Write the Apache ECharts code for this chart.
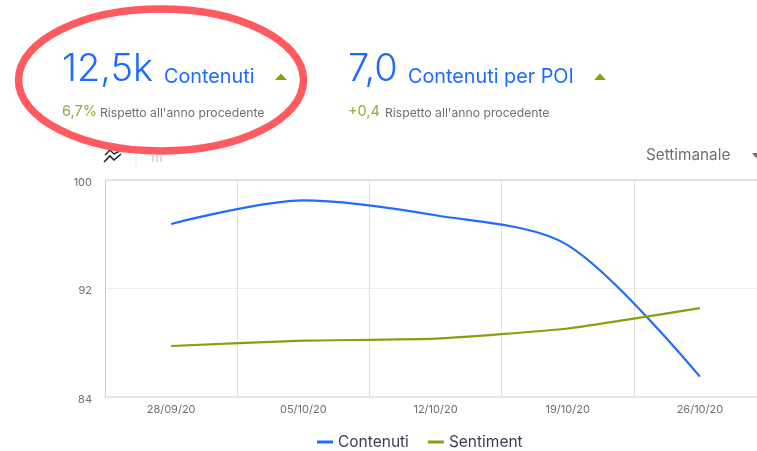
<!DOCTYPE html>
<html><head><meta charset="utf-8">
<style>html,body{margin:0;padding:0;background:#fff;overflow:hidden;width:757px;height:451px}#c{width:766px;height:451px}</style>
<script src="https://cdn.jsdelivr.net/npm/echarts@6/dist/echarts.min.js"></script>
</head><body><div id="c"></div>
<script>
const categories = ['28/09/20','05/10/20','12/10/20','19/10/20','26/10/20'];
const contenuti = [96.76, 98.5, 97.4, 95.2, 85.5];
const sentiment = [87.76, 88.15, 88.3, 89.05, 90.55];
const yTicks = [84, 92, 100];
const FONT = 'Inter, "Noto Sans", sans-serif';
const BLUE = '#1f6bff', GREEN = '#86a010', GREY = '#6f6f6f';
function txt(x, y, text, font, fill){
  return {type:'text', x, y, z:5, style:{text, font:font+' '+FONT, fill, textVerticalAlign:'middle'}};
}
function tri(cx, cy){
  return {type:'polygon', z:5, shape:{points:[[cx-6,cy+3],[cx+6,cy+3],[cx,cy-3.5]]}, style:{fill:GREEN}};
}
const chart = echarts.init(document.getElementById('c'), null, {renderer:'canvas'});
chart.setOption({
  animation:false,
  textStyle:{fontFamily:FONT},
  grid:{left:105, right:0, top:180, bottom:54, containLabel:false, show:false},
  legend:{
    top:434, left:312, itemWidth:16, itemHeight:3, itemGap:19, icon:'rect', padding:[0,5],
    data:['Contenuti','Sentiment'], textStyle:{color:'#3b3f52', fontSize:15.5, fontFamily:FONT}
  },
  xAxis:{
    type:'category', data:categories, boundaryGap:true,
    axisLine:{lineStyle:{color:'#e2e5f1', width:2}},
    axisTick:{show:false},
    axisLabel:{color:GREY, fontSize:11, margin:7, interval:0},
    splitLine:{show:true, interval:0, lineStyle:{color:'#e0e0e0', width:1}}
  },
  yAxis:{
    type:'value', min:84, max:100, interval:8,
    axisLine:{show:true, lineStyle:{color:'#cfcfcf', width:1}},
    axisTick:{show:false},
    axisLabel:{color:GREY, fontSize:11, margin:13, verticalAlign:'top', lineHeight:5, formatter:v => yTicks.includes(v) ? String(v) : ''},
    splitLine:{show:true, lineStyle:{color:'#ececec', width:1}}
  },
  series:[
    {name:'Contenuti', type:'line', smooth:0.3, showSymbol:false, symbol:'none', data:contenuti, lineStyle:{color:BLUE, width:2.2}, itemStyle:{color:BLUE}},
    {name:'Sentiment', type:'line', smooth:0.15, showSymbol:false, symbol:'none', data:sentiment, lineStyle:{color:GREEN, width:2.2}, itemStyle:{color:GREEN}}
  ],
  graphic:[
    {type:'line', z:1, shape:{x1:105,y1:180,x2:766,y2:180}, style:{stroke:'#cfcfcf', lineWidth:1}},
    txt(62,70,'12,5k','300 38px',BLUE),
    txt(164,77,'Contenuti','19.8px',BLUE),
    tri(281,77),
    txt(62,112,'6,7%','14.5px','#9aa83a'),
    txt(100,113,"Rispetto all'anno procedente",'12.2px',GREY),
    txt(348,70,'7,0','300 38px',BLUE),
    txt(408,77,'Contenuti per POI','19.8px',BLUE),
    tri(600,77),
    txt(348,112,'+0,4','14.5px','#9aa83a'),
    txt(385,113,"Rispetto all'anno procedente",'12.2px',GREY),
    txt(646,155,'Settimanale','15.3px',GREY),
    {type:'polygon', z:5, shape:{points:[[752,153],[760,153],[756,158]]}, style:{fill:GREY}},
    {type:'polyline', z:5, shape:{points:[[104,162],[110,156],[114,160],[121,154]]}, style:{stroke:'#222', fill:'none', lineWidth:1.6}},
    {type:'polyline', z:5, shape:{points:[[105,155],[110,150],[114,154],[122,150]]}, style:{stroke:'#222', fill:'none', lineWidth:1.4}},
    {type:'line', z:1, shape:{x1:136,y1:145,x2:136,y2:167}, style:{stroke:'#e6e6e6', lineWidth:1}},
    {type:'rect', z:1, shape:{x:152,y:155,width:2,height:7}, style:{fill:'#dcdcdc'}},
    {type:'rect', z:1, shape:{x:156,y:153,width:2,height:9}, style:{fill:'#dcdcdc'}},
    {type:'rect', z:1, shape:{x:160,y:156,width:2,height:6}, style:{fill:'#dcdcdc'}},
    {type:'ellipse', z:10, shape:{cx:161,cy:80,rx:142.5,ry:71}, style:{stroke:'#ff5a5f', fill:'none', lineWidth:7.5}}
  ]
});
</script></body></html>
